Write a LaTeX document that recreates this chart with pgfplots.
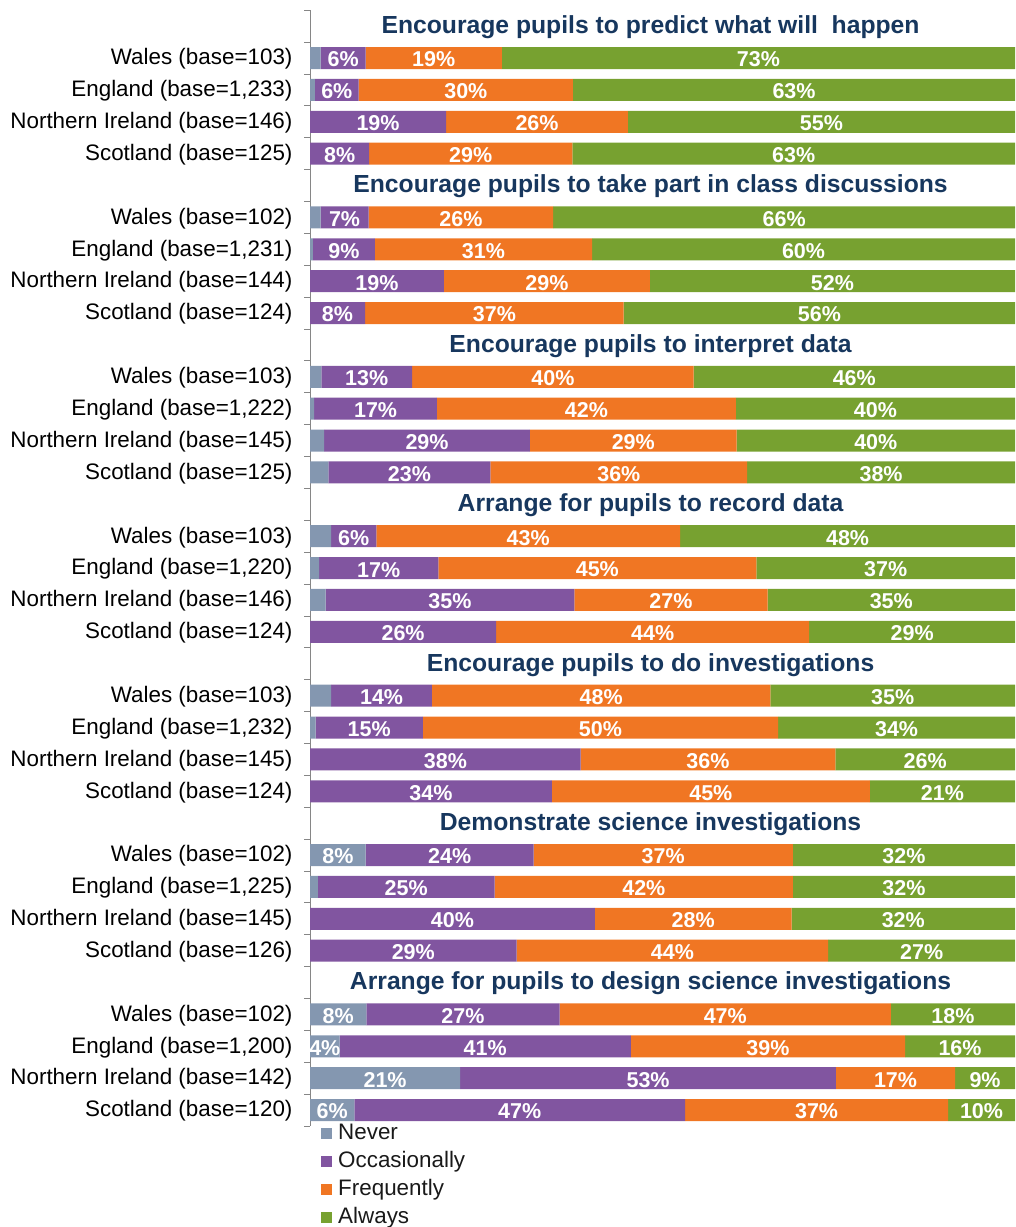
\documentclass[border=0pt]{standalone}
\usepackage{pgfplots}
\pgfplotsset{compat=1.18}
\usepackage{pgfplotstable}
\usepackage{fontspec}
\setmainfont{Liberation Sans}
\definecolor{cnever}{HTML}{8497B0}
\definecolor{cocc}{HTML}{8155A0}
\definecolor{cfreq}{HTML}{F07623}
\definecolor{calw}{HTML}{77A130}
\definecolor{ctitle}{HTML}{17375E}
\definecolor{caxis}{HTML}{868686}

\pgfplotstableread{
y N O F A NL OL FL AL
1 1.5 6.4 19.3 72.8 0 6 19 73
2 0.7 6.2 30.4 62.7 0 6 30 63
3 0 19.3 25.8 54.9 0 19 26 55
4 0 8.4 28.8 62.8 0 8 29 63
6 1.5 6.8 26.2 65.5 0 7 26 66
7 0.4 8.8 30.8 60.0 0 9 31 60
8 0 19.0 29.2 51.8 0 19 29 52
9 0 7.8 36.7 55.5 0 8 37 56
11 1.6 12.9 39.9 45.6 0 13 40 46
12 0.6 17.4 42.4 39.6 0 17 42 40
13 2.0 29.2 29.3 39.5 0 29 29 40
14 2.6 23.0 36.4 38.0 0 23 36 38
16 3.0 6.4 43.1 47.5 0 6 43 48
17 1.3 16.9 45.1 36.7 0 17 45 37
18 2.2 35.3 27.4 35.1 0 35 27 35
19 0 26.4 44.4 29.2 0 26 44 29
21 3.0 14.3 48.0 34.7 0 14 48 35
22 0.8 15.2 50.4 33.6 0 15 50 34
23 0 38.4 36.1 25.5 0 38 36 26
24 0 34.3 45.1 20.6 0 34 45 21
26 7.9 23.8 36.8 31.5 8 24 37 32
27 1.1 25.1 42.3 31.5 0 25 42 32
28 0 40.4 27.9 31.7 0 40 28 32
29 0 29.3 44.2 26.5 0 29 44 27
31 8.0 27.4 47.0 17.6 8 27 47 18
32 4.2 41.3 38.9 15.6 4 41 39 16
33 21.3 53.3 16.9 8.5 21 53 17 9
34 6.3 46.9 37.3 9.5 6 47 37 10
}\data

\pgfplotsset{
  base/.style={
    scale only axis, width=705pt, height=1115.8pt,
    xmin=0, xmax=100, ymin=-0.5, ymax=34.5, y dir=reverse,
  },
  lbl/.style={draw=none, mark=none, point meta=explicit symbolic,
    nodes near coords={\pgfplotspointmeta\%},
    every node near coord/.append style={anchor=center, text=white,
      font=\bfseries\fontsize{21.5}{24}\selectfont, yshift=-1.5pt, inner sep=0pt}},
}
\tikzset{ttl/.style={font=\bfseries\fontsize{24.7}{28}\selectfont, text=ctitle, anchor=center, inner sep=0pt, yshift=-1pt}}

\begin{document}
\begin{tikzpicture}
\begin{axis}[base, name=ax, xbar stacked, bar width=22pt,
  hide x axis, axis y line*=left,
  axis line style={caxis, line width=0.8pt},
  ytick={0,...,34},
  yticklabels={{},
    {Wales (base=103)},{England (base=1,233)},{Northern Ireland (base=146)},{Scotland (base=125)},{},
    {Wales (base=102)},{England (base=1,231)},{Northern Ireland (base=144)},{Scotland (base=124)},{},
    {Wales (base=103)},{England (base=1,222)},{Northern Ireland (base=145)},{Scotland (base=125)},{},
    {Wales (base=103)},{England (base=1,220)},{Northern Ireland (base=146)},{Scotland (base=124)},{},
    {Wales (base=103)},{England (base=1,232)},{Northern Ireland (base=145)},{Scotland (base=124)},{},
    {Wales (base=102)},{England (base=1,225)},{Northern Ireland (base=145)},{Scotland (base=126)},{},
    {Wales (base=102)},{England (base=1,200)},{Northern Ireland (base=142)},{Scotland (base=120)}},
  major tick length=0pt,
  minor ytick={-0.5,0.5,...,34.5}, minor tick length=6pt, tick align=outside,
  minor tick style={caxis, line width=0.8pt},
  yticklabel style={font=\fontsize{22.4}{26}\selectfont, text=black, xshift=-14pt, yshift=-1pt},
  legend cell align=left,
  legend style={at={(0,0)}, anchor=north west, xshift=11pt, yshift=7pt,
    draw=none, fill=none, inner sep=0pt,
    font=\fontsize{22.4}{26}\selectfont, text=black!90, row sep=0pt,
    nodes={inner sep=2pt, text height=18pt, text depth=6pt}},
  legend image code/.code={\fill[#1] (0pt,-5.5pt) rectangle (11pt,5.5pt); \path (15pt,0pt);},
]
\addplot[fill=cnever, draw=none] table[x=N, y=y] {\data};
\addlegendentry{Never}
\addplot[fill=cocc, draw=none] table[x=O, y=y] {\data};
\addlegendentry{Occasionally}
\addplot[fill=cfreq, draw=none] table[x=F, y=y] {\data};
\addlegendentry{Frequently}
\addplot[fill=calw, draw=none] table[x=A, y=y] {\data};
\addlegendentry{Always}
\end{axis}
\begin{axis}[base, hide axis, at={(ax.south west)}, anchor=south west]
\addplot[lbl, restrict expr to domain={\thisrow{NL}}{1:100}] table[x expr=\thisrow{N}/2, y=y, meta=NL] {\data};
\addplot[lbl] table[x expr=\thisrow{N}+\thisrow{O}/2, y=y, meta=OL] {\data};
\addplot[lbl] table[x expr=\thisrow{N}+\thisrow{O}+\thisrow{F}/2, y=y, meta=FL] {\data};
\addplot[lbl] table[x expr=\thisrow{N}+\thisrow{O}+\thisrow{F}+\thisrow{A}/2, y=y, meta=AL] {\data};
\node[ttl] at (axis cs:48.3,0) {Encourage pupils to predict what will\ \ happen};
\node[ttl] at (axis cs:48.3,5) {Encourage pupils to take part in class discussions};
\node[ttl] at (axis cs:48.3,10) {Encourage pupils to interpret data};
\node[ttl] at (axis cs:48.3,15) {Arrange for pupils to record data};
\node[ttl] at (axis cs:48.3,20) {Encourage pupils to do investigations};
\node[ttl] at (axis cs:48.3,25) {Demonstrate science investigations};
\node[ttl] at (axis cs:48.3,30) {Arrange for pupils to design science investigations};
\end{axis}
\pgfresetboundingbox
\path[use as bounding box] ([xshift=-310pt, yshift=10.2pt]ax.north west) rectangle ([yshift=-101pt]ax.south east);
\end{tikzpicture}
\end{document}
